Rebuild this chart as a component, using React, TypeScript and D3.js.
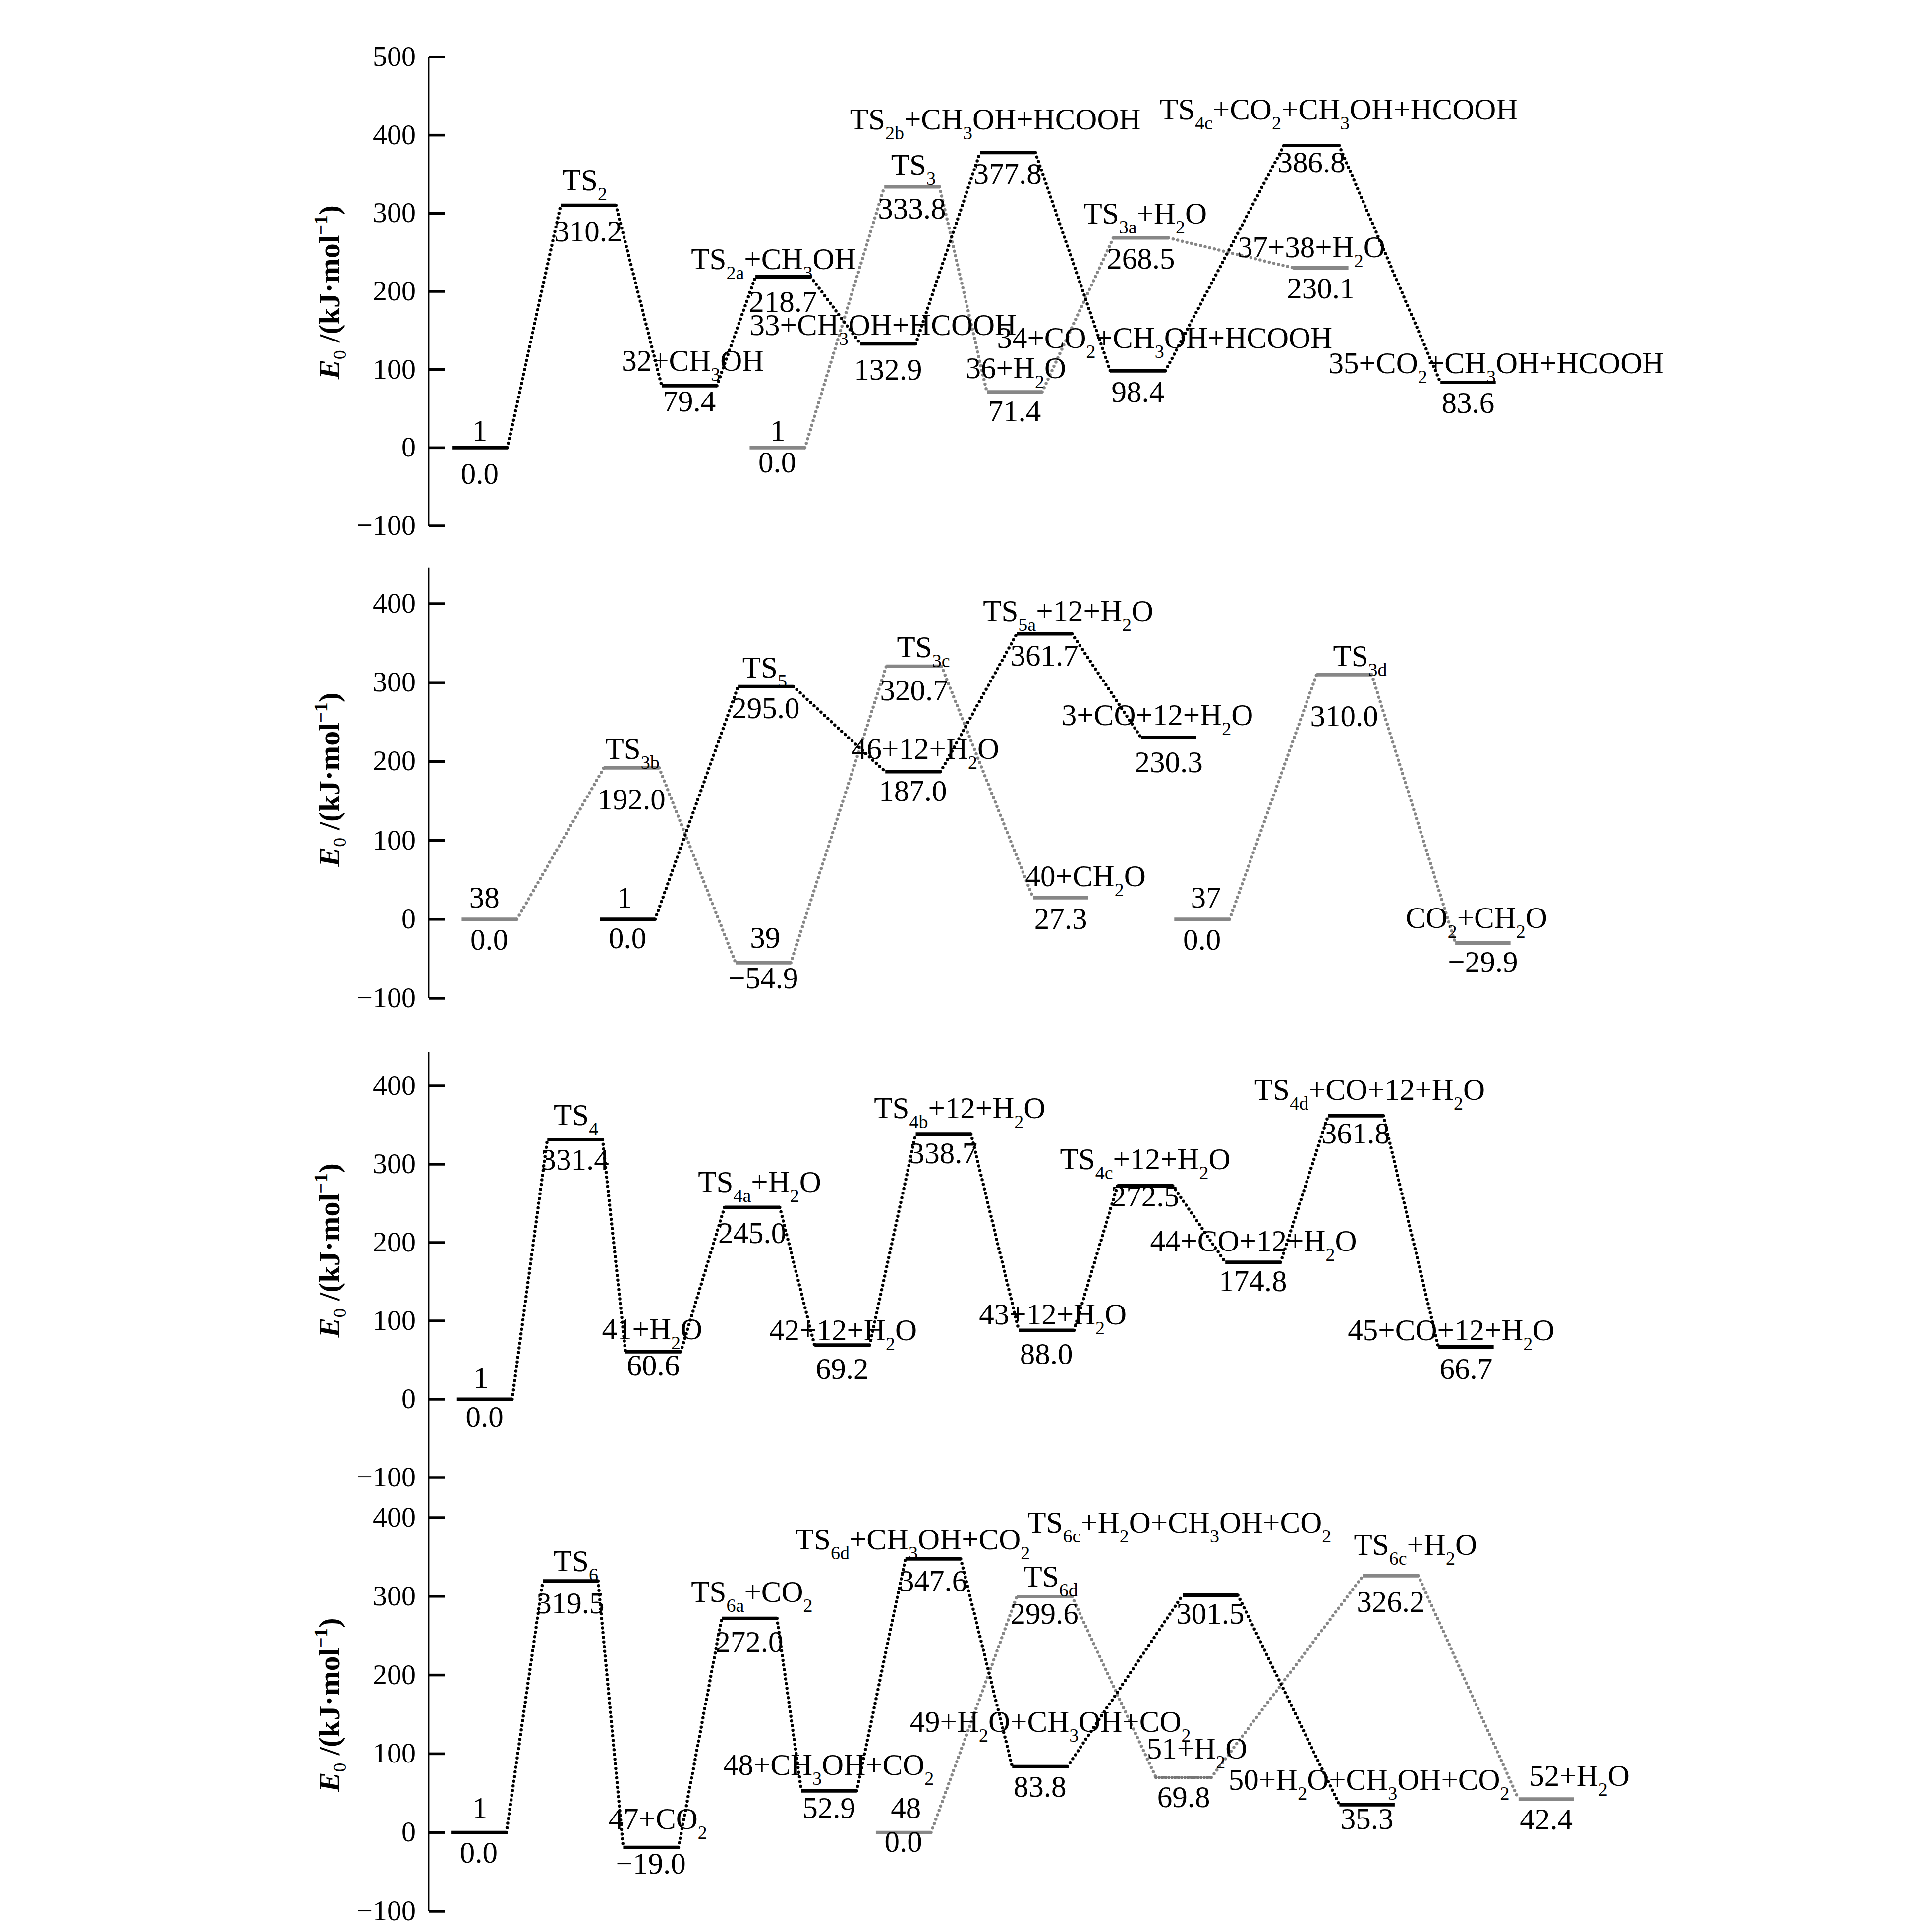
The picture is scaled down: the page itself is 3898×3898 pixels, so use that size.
import * as d3 from "d3";

const SERIF = "'Liberation Serif', 'Times New Roman', Times, serif";
const INK = "#000";
const GREY = "#878787";

// Reaction coordinate runs 0..50 across every panel; energies in kJ/mol.
// "_" starts a subscript (digits / lower-case letters).

// ---- panel 1
const p1Names = [
  "1", "TS_2", "32+CH_3OH", "TS_2a+CH_3OH", "33+CH_3OH+HCOOH", "TS_2b+CH_3OH+HCOOH",
  "34+CO_2+CH_3OH+HCOOH", "TS_4c+CO_2+CH_3OH+HCOOH", "35+CO_2+CH_3OH+HCOOH",
  "1", "TS_3", "36+H_2O", "TS_3a+H_2O", "37+38+H_2O",
];
const p1Values = [0.0, 310.2, 79.4, 218.7, 132.9, 377.8, 98.4, 386.8, 83.6, 0.0, 333.8, 71.4, 268.5, 230.1];
const p1Coord = [2.03, 6.35, 10.37, 14.1, 18.28, 23.04, 28.22, 35.13, 41.36, 13.87, 19.23, 23.31, 28.34, 35.5];
const p1Tone = ["k", "k", "k", "k", "k", "k", "k", "k", "k", "g", "g", "g", "g", "g"];
const p1Paths = [[0, 1, 2, 3, 4, 5, 6, 7, 8], [9, 10, 11, 12, 13]];

// ---- panel 2
const p2Names = [
  "38", "TS_3b", "39", "TS_3c", "40+CH_2O",
  "1", "TS_5", "46+12+H_2O", "TS_5a+12+H_2O", "3+CO+12+H_2O",
  "37", "TS_3d", "CO_2+CH_2O",
];
const p2Values = [0.0, 192.0, -54.9, 320.7, 27.3, 0.0, 295.0, 187.0, 361.7, 230.3, 0.0, 310.0, -29.9];
const p2Coord = [2.41, 8.07, 13.31, 19.31, 25.15, 7.91, 13.41, 19.27, 24.5, 29.45, 30.77, 36.43, 41.95];
const p2Tone = ["g", "g", "g", "g", "g", "k", "k", "k", "k", "k", "g", "g", "g"];
const p2Paths = [[0, 1, 2, 3, 4], [5, 6, 7, 8, 9], [10, 11, 12]];

// ---- panel 3
const p3Names = [
  "1", "TS_4", "41+H_2O", "TS_4a+H_2O", "42+12+H_2O", "TS_4b+12+H_2O",
  "43+12+H_2O", "TS_4c+12+H_2O", "44+CO+12+H_2O", "TS_4d+CO+12+H_2O", "45+CO+12+H_2O",
];
const p3Values = [0.0, 331.4, 60.6, 245.0, 69.2, 338.7, 88.0, 272.5, 174.8, 361.8, 66.7];
const p3Coord = [2.22, 5.82, 8.93, 12.87, 16.45, 20.48, 24.58, 28.51, 32.8, 36.89, 41.28];
const p3Tone = ["k", "k", "k", "k", "k", "k", "k", "k", "k", "k", "k"];
const p3Paths = [[0, 1, 2, 3, 4, 5, 6, 7, 8, 9, 10]];

// ---- panel 4
const p4Names = [
  "1", "TS_6", "47+CO_2", "TS_6a+CO_2", "48+CH_3OH+CO_2", "TS_6d+CH_3OH+CO_2",
  "49+H_2O+CH_3OH+CO_2", "TS_6c+H_2O+CH_3OH+CO_2", "50+H_2O+CH_3OH+CO_2",
  "48", "TS_6d", "51+H_2O", "TS_6c+H_2O", "52+H_2O",
];
const p4Values = [0.0, 319.5, -19.0, 272.0, 52.9, 347.6, 83.8, 301.5, 35.3, 0.0, 299.6, 69.8, 326.2, 42.4];
const p4Coord = [1.99, 5.64, 8.84, 12.76, 15.93, 20.07, 24.32, 31.1, 37.34, 18.89, 24.5, 30.04, 38.28, 44.47];
const p4Tone = ["k", "k", "k", "k", "k", "k", "k", "k", "k", "g", "g", "g", "g", "g"];
const p4Paths = [[0, 1, 2, 3, 4, 5, 6, 7, 8], [9, 10, 11, 12, 13]];

// label nudges in px: [name dx, name dy, value dy] relative to the level
const p1Nudge = [
  [0, -14, 73], [-7, -30, 73], [7, -30, 52], [-19, -16, 70], [-10, -18, 72], [-25, -47, 63],
  [54, -46, 63], [55, -52, 55], [57, -19, 61], [1, -14, 50], [3, -24, 64], [3, -28, 59],
  [9, -29, 62], [-19, -22, 61],
];
const p2Nudge = [
  [-10, -24, 61], [2, -18, 84], [4, -30, 52], [19, -18, 69], [50, -23, 63], [-6, -24, 58],
  [-2, -18, 64], [25, -26, 59], [48, -26, 64], [-23, -25, 70], [8, -24, 61], [32, -17, 104],
  [-13, -30, 59],
];
const p3Nudge = [
  [-7, -23, 56], [2, -29, 61], [-2, -25, 48], [15, -31, 72], [2, -10, 68], [33, -32, 59],
  [13, -12, 68], [0, -33, 42], [1, -23, 58], [28, -32, 56], [-30, -14, 64],
];
const p4Nudge = [
  [2, -29, 61], [11, -20, 65], [14, -37, 53], [5, -33, 68], [-1, -32, 55], [-41, -19, 65],
  [21, -70, 61], [-62, -126, 58], [4, -30, 49], [5, -29, 39], [13, -20, 55], [27, -38, 60],
  [50, -42, 73], [67, -27, 61],
];

const panels = [
  { names: p1Names, values: p1Values, coord: p1Coord, tone: p1Tone, paths: p1Paths, nudge: p1Nudge,
    domain: [-100, 500], range: [1061, 115], axisTop: 500, title: 199, dotted: [] as number[] },
  { names: p2Names, values: p2Values, coord: p2Coord, tone: p2Tone, paths: p2Paths, nudge: p2Nudge,
    domain: [-100, 400], range: [2014, 1218], axisTop: 446, title: 177, dotted: [] as number[] },
  { names: p3Names, values: p3Values, coord: p3Coord, tone: p3Tone, paths: p3Paths, nudge: p3Nudge,
    domain: [-100, 400], range: [2981, 2191], axisTop: 443, title: 190, dotted: [] as number[] },
  { names: p4Names, values: p4Values, coord: p4Coord, tone: p4Tone, paths: p4Paths, nudge: p4Nudge,
    domain: [-100, 400], range: [3856, 3062], axisTop: 452, title: 162, dotted: [11] },
];

const BAR = 2.2; // level width in reaction-coordinate units
const x = d3.scaleLinear().domain([0, 50]).range([865, 3400]);
const fmtValue = d3.format(".1f");
const fmtTick = d3.format("d");

function Chem({ cx, y, s }: { cx: number; y: number; s: string }) {
  const parts = s.split(/_([0-9a-z]+)/);
  let down = false;
  return (
    <text x={cx} y={y} textAnchor="middle" fontFamily={SERIF} fontSize={61} fill={INK}>
      {parts.map((t, i) => {
        if (!t) return null;
        if (i % 2 === 1) {
          down = true;
          return (
            <tspan key={i} dy={20} fontSize={38}>
              {t}
            </tspan>
          );
        }
        const dy = down ? -20 : 0;
        down = false;
        return (
          <tspan key={i} dy={dy}>
            {t}
          </tspan>
        );
      })}
    </text>
  );
}

function Panel({ p }: { p: (typeof panels)[number] }) {
  const y = d3.scaleLinear().domain(p.domain).range(p.range);
  const ax = x(0);
  const half = (x(BAR) - x(0)) / 2;
  const ticks = y.ticks((p.domain[1] - p.domain[0]) / 100);
  const colour = (i: number) => (p.tone[i] === "k" ? INK : GREY);
  // grey paths first so the black ones sit on top
  const order = p.paths
    .map((path, k) => ({ path, k }))
    .sort((a, b) => (p.tone[a.path[0]] === "g" ? -1 : 1) - (p.tone[b.path[0]] === "g" ? -1 : 1));

  return (
    <g>
      <line x1={ax} x2={ax} y1={y(-100)} y2={y(p.axisTop)} stroke={INK} strokeWidth={2.8} />
      {ticks.map((t) => (
        <g key={t}>
          <line x1={ax} x2={ax + 32} y1={y(t)} y2={y(t)} stroke={INK} strokeWidth={5.5} />
          <text x={ax - 26} y={y(t) + 18} textAnchor="end" fontFamily={SERIF} fontSize={58} fill={INK}>
            {fmtTick(t)}
          </text>
        </g>
      ))}
      <text
        transform={`translate(684, ${y(p.title)}) rotate(-90)`}
        textAnchor="middle"
        fontFamily={SERIF}
        fontSize={60}
        fontWeight="bold"
        fill={INK}
      >
        <tspan fontStyle="italic">E</tspan>
        <tspan fontSize={38} dy={14} fontWeight="normal">0</tspan>
        <tspan dy={-14}>{" /(kJ·mol"}</tspan>
        <tspan fontSize={38} dy={-24}>−1</tspan>
        <tspan dy={24}>)</tspan>
      </text>

      {order.map(({ path, k }) =>
        path.slice(1).map((to, j) => {
          const from = path[j];
          return (
            <line
              key={`${k}-${j}`}
              x1={x(p.coord[from]) + half}
              y1={y(p.values[from])}
              x2={x(p.coord[to]) - half}
              y2={y(p.values[to])}
              stroke={colour(from)}
              strokeWidth={6.5}
              strokeDasharray="0 9.5"
              strokeLinecap="round"
            />
          );
        })
      )}

      {p.values.map((v, i) => {
        const dotted = p.dotted.includes(i);
        return (
          <line
            key={i}
            x1={x(p.coord[i]) - half}
            x2={x(p.coord[i]) + half}
            y1={y(v)}
            y2={y(v)}
            stroke={dotted ? "#767676" : colour(i)}
            strokeWidth={dotted ? 6.5 : 7}
            strokeDasharray={dotted ? "0 6.5" : undefined}
            strokeLinecap={dotted ? "round" : "butt"}
          />
        );
      })}

      {p.values.map((v, i) => {
        const cx = x(p.coord[i]);
        const [dx, dy, vdy] = p.nudge[i];
        return (
          <g key={i}>
            <Chem cx={cx + dx} y={y(v) + dy} s={p.names[i]} />
            <text x={cx} y={y(v) + vdy} textAnchor="middle" fontFamily={SERIF} fontSize={61} fill={INK}>
              {fmtValue(v)}
            </text>
          </g>
        );
      })}
    </g>
  );
}

export default function App() {
  return (
    <svg
      width={3898}
      height={3898}
      style={{ position: "absolute", left: 0, top: 0, background: "#fff" }}
    >
      <rect width={3898} height={3898} fill="#fff" />
      {panels.map((p, i) => (
        <Panel key={i} p={p} />
      ))}
    </svg>
  );
}
